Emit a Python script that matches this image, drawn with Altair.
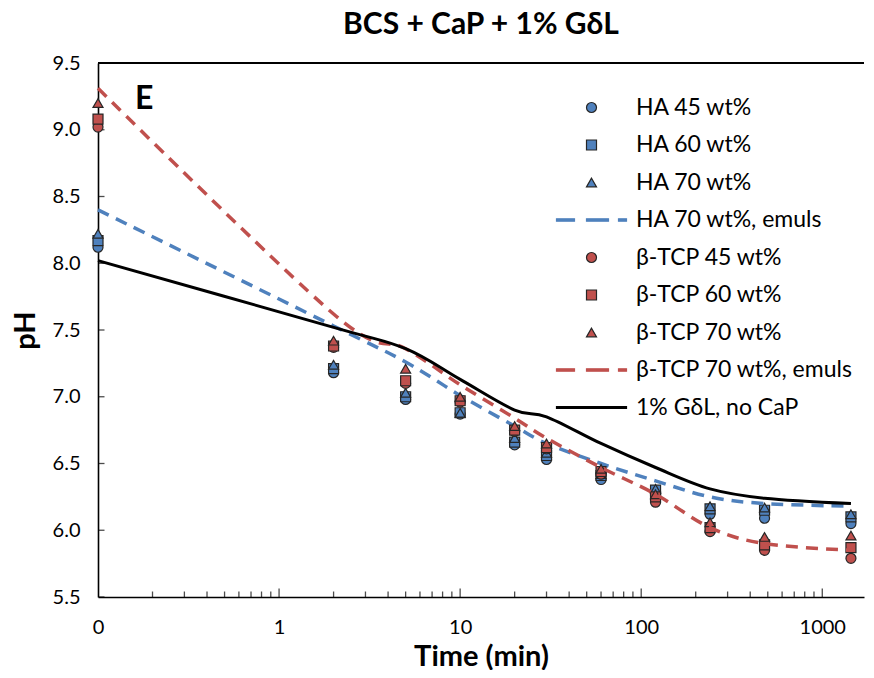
import altair as alt
import pandas as pd

# ---------------- data ----------------
times = [0.1, 2, 5, 10, 20, 30, 60, 120, 240, 480, 1440]

ha45 = [8.12, 7.18, 6.98, 6.87, 6.64, 6.53, 6.38, 6.28, 6.12, 6.09, 6.05]
ha60 = [8.17, 7.21, 7.00, 6.88, 6.66, 6.56, 6.41, 6.30, 6.16, 6.15, 6.10]
ha70 = [8.22, 7.24, 7.03, 6.88, 6.69, 6.58, 6.42, 6.31, 6.18, 6.17, 6.12]
tcp45 = [9.02, 7.37, 7.10, 6.96, 6.74, 6.61, 6.42, 6.21, 5.99, 5.85, 5.79]
tcp60 = [9.08, 7.38, 7.12, 6.97, 6.75, 6.62, 6.44, 6.25, 6.02, 5.89, 5.87]
tcp70 = [9.20, 7.42, 7.21, 7.00, 6.78, 6.65, 6.46, 6.27, 6.06, 5.95, 5.96]

ha70_emuls = [8.40, 7.53, 7.26, 7.01, 6.78, 6.65, 6.50, 6.37, 6.25, 6.20, 6.18]
tcp70_emuls = [9.31, 7.62, 7.36, 7.09, 6.84, 6.69, 6.47, 6.27, 6.02, 5.90, 5.85]
gdl_no_cap = [8.02, 7.52, 7.36, 7.13, 6.90, 6.85, 6.65, 6.47, 6.31, 6.24, 6.20]

series_names = [
    "HA 45 wt%", "HA 60 wt%", "HA 70 wt%", "HA 70 wt%, emuls",
    "β-TCP 45 wt%", "β-TCP 60 wt%", "β-TCP 70 wt%", "β-TCP 70 wt%, emuls",
    "1% GδL, no CaP",
]

x_label_values = [0.1, 1, 10, 100, 1000]
x_minor_ticks = [0.2, 0.3, 0.4, 0.5, 0.6, 0.7, 0.8, 0.9,
                 2, 3, 4, 5, 6, 7, 8, 9,
                 20, 30, 40, 50, 60, 70, 80, 90,
                 200, 300, 400, 500, 600, 700, 800, 900]
x_major_ticks = [1, 10, 100, 1000]
y_tick_values = [5.5, 6.0, 6.5, 7.0, 7.5, 8.0, 8.5, 9.0, 9.5]

panel_label = ["E"]
panel_label_time = [0.18]
panel_label_ph = [9.23]

# ---------------- styles ----------------
BLUE = "#4F81BD"
RED = "#C0504D"
EDGE = "#262626"
FONT = "Lato"

dash_path = "M-7,-0.23H-3.4V0.23H-7ZM-1,-0.23H3.4V0.23H-1ZM5.4,-0.23H7V0.23H5.4Z"
solid_path = "M-7,-0.18H7V0.18H-7Z"

shape_range = ["circle", "square", "triangle-up", dash_path,
               "circle", "square", "triangle-up", dash_path, solid_path]
fill_range = [BLUE, BLUE, BLUE, BLUE, RED, RED, RED, RED, "black"]
stroke_range = [EDGE, EDGE, EDGE, BLUE, EDGE, EDGE, EDGE, RED, "black"]


def long_df(names, arrays):
    rows = []
    for n, arr in zip(names, arrays):
        for t, v in zip(times, arr):
            rows.append({"time": t, "ph": v, "series": n})
    return pd.DataFrame(rows)


ha_pts = long_df(series_names[0:3], [ha45, ha60, ha70])
tcp_pts = long_df(series_names[4:7], [tcp45, tcp60, tcp70])
ha_line = long_df([series_names[3]], [ha70_emuls])
tcp_line = long_df([series_names[7]], [tcp70_emuls])
gdl_line = long_df([series_names[8]], [gdl_no_cap])

xscale = alt.Scale(type="log", domain=[0.1, 1700], nice=False)
yscale = alt.Scale(domain=[5.5, 9.5], nice=False, zero=False)

xaxis = alt.Axis(
    title="Time (min)", values=x_label_values, ticks=False, grid=False, labelFlush=False,
    labelExpr="datum.value < 0.5 ? '0' : format(datum.value, 'd')",
    labelFont=FONT, labelFontSize=20, labelColor="black", labelPadding=20,
    titleFont=FONT, titleFontSize=29, titleFontWeight="bold", titleColor="black",
    titlePadding=5, domainColor="black", domainWidth=1.6,
)
yaxis = alt.Axis(
    title="pH", values=y_tick_values, format=".1f", ticks=False, grid=False,
    labelFont=FONT, labelFontSize=20, labelColor="black", labelPadding=18,
    titleFont=FONT, titleFontSize=29, titleFontWeight="bold", titleColor="black",
    titlePadding=12, domainColor="black", domainWidth=1.6,
)

X = alt.X("time:Q", scale=xscale, axis=xaxis)
Y = alt.Y("ph:Q", scale=yscale, axis=yaxis)

leg = alt.Legend(title=None)
shape_enc = alt.Shape("series:N", scale=alt.Scale(domain=series_names, range=shape_range), legend=leg)
fill_enc = alt.Fill("series:N", scale=alt.Scale(domain=series_names, range=fill_range), legend=leg)
stroke_enc = alt.Stroke("series:N", scale=alt.Scale(domain=series_names, range=stroke_range), legend=leg)


def points(df):
    return alt.Chart(df).mark_point(filled=True, opacity=1, size=100, strokeWidth=1.2).encode(
        x=X, y=Y, shape=shape_enc, fill=fill_enc, stroke=stroke_enc
    )


def line(df, dash, width):
    kw = dict(interpolate="cardinal", strokeWidth=width)
    if dash:
        kw["strokeDash"] = [12, 8]
    return alt.Chart(df).mark_line(**kw).encode(x=X, y=Y, stroke=stroke_enc)


minor_df = pd.DataFrame({"time": x_minor_ticks})
major_df = pd.DataFrame({"time": x_major_ticks})
ytick_df = pd.DataFrame({"ph": y_tick_values})

minor_ticks = alt.Chart(minor_df).mark_tick(orient="vertical", size=11, thickness=1.3,
                                            color="black", clip=True).encode(x=X, y=alt.datum(5.5))
major_ticks = alt.Chart(major_df).mark_tick(orient="vertical", size=17, thickness=1.3,
                                            color="black", clip=True).encode(x=X, y=alt.datum(5.5))
y_ticks = alt.Chart(ytick_df).mark_tick(orient="horizontal", size=13, thickness=1.3,
                                        color="black", clip=True).encode(x=alt.datum(0.1), y=Y)
top_border = alt.Chart(ytick_df).mark_rule(color="black", strokeWidth=1.6).encode(y=alt.datum(9.5))

label_df = pd.DataFrame({"time": panel_label_time, "ph": panel_label_ph, "txt": panel_label})
label = alt.Chart(label_df).mark_text(font=FONT, fontSize=32, fontWeight="bold",
                                      color="black").encode(x=X, y=Y, text="txt:N")

chart = alt.layer(
    minor_ticks, major_ticks, y_ticks, top_border,
    points(ha_pts), line(ha_line, True, 3.5),
    points(tcp_pts), line(tcp_line, True, 3.5),
    line(gdl_line, False, 3),
    label,
).properties(
    width=766, height=534,
    title=alt.Title("BCS + CaP + 1% GδL", font=FONT, fontSize=30, fontWeight="bold",
                    color="black", anchor="middle", offset=13),
    padding={"left": 90, "top": 55, "right": 2, "bottom": 73},
    autosize=alt.AutoSizeParams(type="none"),
).configure_view(stroke=None).configure_legend(
    orient="none", legendX=482, legendY=33, labelFont=FONT, labelFontSize=23,
    labelColor="black", rowPadding=13.5, symbolSize=100, symbolStrokeWidth=1.2,
    labelOffset=33, labelLimit=400,
)

chart.save("out.html", embed_options={"renderer": "svg", "actions": False})
